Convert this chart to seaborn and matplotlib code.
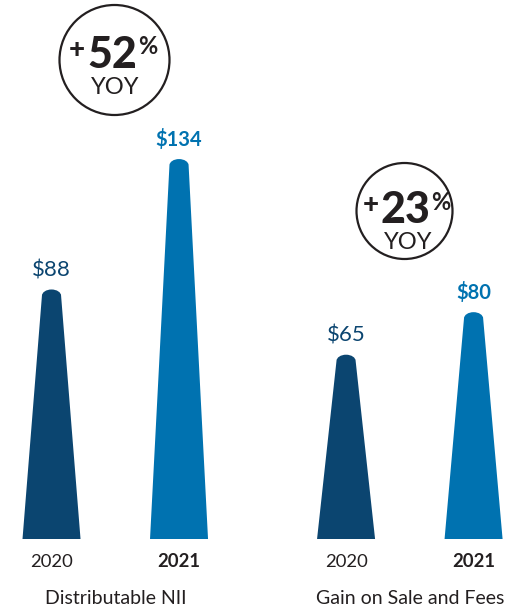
import matplotlib
matplotlib.use("Agg")
import matplotlib.pyplot as plt
import numpy as np
import pandas as pd
import seaborn as sns
from matplotlib.path import Path
from matplotlib.patches import PathPatch, Circle

# ---- data -------------------------------------------------------------
categories = ["Distributable NII", "Gain on Sale and Fees"]
years = ["2020", "2021"]
nii_values = [88, 134]
gain_values = [65, 80]
value_labels = [["$88", "$134"], ["$65", "$80"]]
growth_pct = ["52", "23"]

# ---- style ------------------------------------------------------------
DARK = "#0b4570"
BLUE = "#0072b0"
INK = "#231f20"

sns.set_theme(style="white")
plt.rcParams["font.family"] = ["Lato", "DejaVu Sans"]

W, H = 508, 610
fig = plt.figure(figsize=(W / 100, H / 100), dpi=100)
ax = fig.add_axes([0, 0, 1, 1])

group_gap = 2.31
rows = []
for g, vals in enumerate([nii_values, gain_values]):
    for j, (yr, v) in enumerate(zip(years, vals)):
        rows.append({"pos": g * group_gap + j, "value": v, "year": yr,
                     "group": categories[g], "label": value_labels[g][j]})
df = pd.DataFrame(rows)

sns.barplot(data=df, x="pos", y="value", hue="year", native_scale=True,
            dodge=False, palette={"2020": DARK, "2021": BLUE}, width=0.455,
            saturation=1, legend=False, ax=ax)

ax.set_xlim(-0.404, 3.580)
ax.set_ylim(-25.04, 190.1)
ax.axis("off")

# reshape each rectangle into a tapered column with a rounded top
top_ratio = 0.33
cap = 2.2
k = 0.5523
for rect in list(ax.patches):
    x0, w, h = rect.get_x(), rect.get_width(), rect.get_height()
    if h <= 0:
        continue
    cx = x0 + w / 2
    hb, ht = w / 2, w * top_ratio / 2
    verts = [
        (cx - hb, 0),
        (cx - ht, h - cap),
        (cx - ht, h - cap + k * cap), (cx - k * ht, h), (cx, h),
        (cx + k * ht, h), (cx + ht, h - cap + k * cap), (cx + ht, h - cap),
        (cx + hb, 0),
        (cx - hb, 0),
    ]
    codes = [Path.MOVETO, Path.LINETO,
             Path.CURVE4, Path.CURVE4, Path.CURVE4,
             Path.CURVE4, Path.CURVE4, Path.CURVE4,
             Path.LINETO, Path.CLOSEPOLY]
    ax.add_patch(PathPatch(Path(verts, codes), facecolor=rect.get_facecolor(),
                           edgecolor="none", antialiased=True))
    rect.remove()

# value labels, year labels, group labels
for _, r in df.iterrows():
    bold = r["year"] == "2021"
    color = BLUE if bold else DARK
    ax.text(r["pos"], r["value"] + 4.7, r["label"], ha="center", va="baseline",
            fontsize=14.5 if bold else 16, fontweight="bold" if bold else "normal",
            color=color)
    ax.text(r["pos"], -9.9, r["year"], ha="center", va="baseline",
            fontsize=13.3, fontweight="bold" if bold else "normal", color=INK)

for g, cat in enumerate(categories):
    ax.text(g * group_gap + 0.5, -22.8, cat, ha="center", va="baseline",
            fontsize=14, color=INK)

# growth badges (pixel space overlay)
ov = fig.add_axes([0, 0, 1, 1], zorder=5)
ov.set_xlim(0, W)
ov.set_ylim(H, 0)
ov.axis("off")
ov.patch.set_alpha(0)

# circle centre/radius and the number's centre-x / baseline
badges = [((114.5, 60, 55), (112, 68)),
          ((404.5, 211, 48), (405.5, 223))]
for ((cx, cy, r), (nx, nb)), pct in zip(badges, growth_pct):
    ov.add_patch(Circle((cx, cy), r, fill=False, lw=1.6, ec=INK))
    ov.text(nx, nb, pct, ha="center", va="baseline", fontsize=31,
            fontweight="black", color=INK)
    ov.text(nx - 35, nb - 10, "+", ha="center", va="baseline", fontsize=20,
            fontweight="black", color=INK)
    ov.text(nx + 35.5, nb - 13.5, "%", ha="center", va="baseline", fontsize=17,
            fontweight="bold", color=INK)
    ov.text(nx + 3, nb + 26, "YOY", ha="center", va="baseline", fontsize=17,
            color=INK)

fig.savefig("out.png", dpi=100)
